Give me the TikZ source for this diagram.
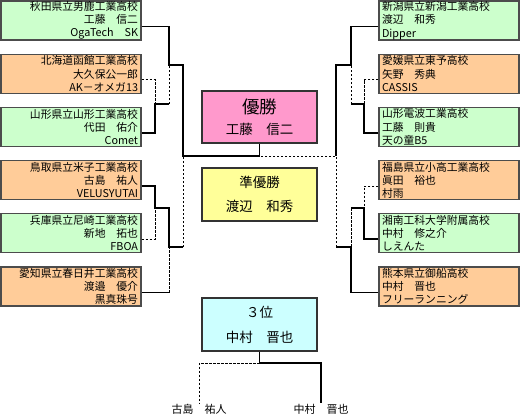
\documentclass[tikz,border=0pt]{standalone}
\usepackage{fontspec}
\newfontfamily\jp{Noto Sans CJK JP}
\usetikzlibrary{positioning}
\definecolor{tgreen}{HTML}{CCFFCC}
\definecolor{torange}{HTML}{FFCC99}
\definecolor{pwin}{HTML}{FF99CC}
\definecolor{psecond}{HTML}{FFFF99}
\definecolor{pthird}{HTML}{CCFFFF}
\begin{document}
\begin{tikzpicture}[x=1pt,y=-1pt, node distance=13pt,
  team/.style={draw=black!70,line width=1.2pt,minimum height=39pt,text width=134pt,inner xsep=3pt,inner ysep=0pt,font=\jp\fontsize{10.8}{13.2}\selectfont},
  lteam/.style={team,align=right},
  rteam/.style={team,align=left},
  prize/.style={draw=black!80,line width=1.3pt,minimum width=115pt,minimum height=52pt,align=center,font=\jp\fontsize{13.5}{15}\selectfont},
  won/.style={line width=1.8pt},
  lost/.style={line width=0.9pt,dash pattern=on 2.5pt off 1.5pt}]
\useasboundingbox (0,0) rectangle (520,416);
% left half
\node[lteam,fill=tgreen] (L1) at (71,20.5) {秋田県立男鹿工業高校\\工藤　信二\\OgaTech　SK};
\node[lteam,fill=torange,below=of L1] (L2) {北海道函館工業高校\\大久保公一郎\\AK－オメガ13};
\node[lteam,fill=tgreen,below=of L2] (L3) {山形県立山形工業高校\\代田　佑介\\Comet};
\node[lteam,fill=torange,below=of L3] (L4) {鳥取県立米子工業高校\\古島　祐人\\VELUSYUTAI};
\node[lteam,fill=tgreen,below=of L4] (L5) {兵庫県立尼崎工業高校\\新地　拓也\\FBOA};
\node[lteam,fill=torange,below=of L5] (L6) {愛知県立春日井工業高校\\渡邉　優介\\黒真珠号};
% right half
\node[rteam,fill=tgreen] (R1) at (449,20.5) {新潟県立新潟工業高校\\渡辺　和秀\\Dipper};
\node[rteam,fill=torange,below=of R1] (R2) {愛媛県立東予高校\\矢野　秀典\\CASSIS};
\node[rteam,fill=tgreen,below=of R2] (R3) {山形電波工業高校\\工藤　則貴\\天の童B5};
\node[rteam,fill=torange,below=of R3] (R4) {福島県立小高工業高校\\眞田　裕也\\村雨};
\node[rteam,fill=tgreen,below=of R4] (R5) {湘南工科大学附属高校\\中村　修之介\\しえんた};
\node[rteam,fill=torange,below=of R5] (R6) {熊本県立御船高校\\中村　晋也\\フリーランニング};
% prizes
\node[prize,fill=pwin] (win) at (259.5,117) {{\fontsize{17.5}{17.5}\selectfont 優勝}\\[6pt]工藤　信二};
\node[prize,fill=psecond,minimum height=53pt] (second) at (259.5,194.5) {準優勝\\[9pt]渡辺　和秀};
\node[prize,fill=pthird,minimum height=53pt] (third) at (259.5,324.5) {３位\\[10pt]中村　晋也};
\node[font=\jp\fontsize{11}{11}\selectfont,inner sep=1pt] (p1) at (199,409) {古島　祐人};
\node[font=\jp\fontsize{11}{11}\selectfont,inner sep=1pt] (p2) at (321,409) {中村　晋也};
% junctions
\coordinate (qL1) at (155,104);
\coordinate (sL1) at (169,65);
\coordinate (qL2) at (155,208);
\coordinate (sL2) at (169,247);
\coordinate (fL) at (183,156);
\coordinate (qR1) at (364,104);
\coordinate (sR1) at (351,65);
\coordinate (qR2) at (364,208);
\coordinate (sR2) at (351,247);
\coordinate (fR) at (336,156);
\coordinate (t3) at (259.5,363);
% losers
\draw[lost] ([yshift=-6pt]L2.east) -| (qL1);
\draw[lost] (qL1 -| sL1) -- (sL1);
\draw[lost] ([yshift=-6pt]L5.east) -| (qL2);
\draw[lost] ([yshift=-6pt]L6.east -| sL2) -- (sL2);
\draw[lost] (sL2 -| fL) -- (fL);
\draw[lost] ([yshift=-6pt]R2.west) -| (qR1);
\draw[lost] (qR1 -| sR1) -- (sR1);
\draw[lost] ([yshift=-6pt]R4.west) -| (qR2);
\draw[lost] (qR2 -| sR2) -- (sR2);
\draw[lost] (sR2 -| fR) -- (fR) -- (fR -| win);
\draw[lost] (t3) -| (p1.north);
% winners
\draw[won] ([yshift=-6pt]L1.east) -| (sL1) -- (sL1 -| fL) -- (fL) -- (fL -| win) -- (win.south);
\draw[won] ([yshift=-6pt]L3.east) -| (qL1) -- (qL1 -| sL1);
\draw[won] ([yshift=-6pt]L4.east) -| (qL2) -- (qL2 -| sL2) -- (sL2) -- (sL2 -| fL);
\draw[won] ([yshift=-6pt]L6.east) -- ([yshift=-6pt]L6.east -| sL2);
\draw[won] ([yshift=-6pt]R1.west) -| (sR1) -- (sR1 -| fR) -- (fR);
\draw[won] ([yshift=-6pt]R3.west) -| (qR1) -- (qR1 -| sR1);
\draw[won] ([yshift=-6pt]R5.west) -| (qR2) -- (qR2 -| sR2);
\draw[won] ([yshift=-6pt]R6.west) -| (sR2) -- (sR2 -| fR);
\draw[won] (third.south) -- (t3) -| (p2.north);
\end{tikzpicture}
\end{document}
